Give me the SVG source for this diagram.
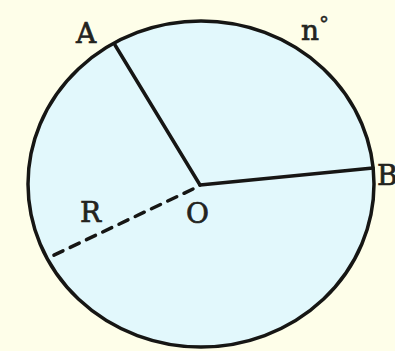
<svg xmlns="http://www.w3.org/2000/svg" width="395" height="351" viewBox="0 0 395 351">
<style>
.lbl{font-family:"DejaVu Serif","Liberation Serif",serif;font-size:28px;fill:#23231e;stroke:#23231e;stroke-width:0.7}
.ln{stroke:#161614;stroke-width:3.5;fill:none;stroke-linecap:round}
</style>
<rect width="395" height="351" fill="#fefee9"/>
<g id="circle">
<ellipse cx="201" cy="184" rx="173" ry="163" fill="#e2f8fc" stroke="#161614" stroke-width="3.5"/>
</g>
<g id="connectors">
<line class="ln" x1="115" y1="45" x2="200" y2="185"/>
<line class="ln" x1="200" y1="185" x2="373" y2="168"/>
<line class="ln" x1="193" y1="189" x2="48" y2="258" stroke-dasharray="10 8" stroke-width="4"/>
</g>
<g id="labels">
<text class="lbl" x="76" y="43">A</text>
<text class="lbl" x="301" y="40" font-size="33">n<tspan font-size="20" stroke-width="0.4" dy="-9">°</tspan></text>
<text class="lbl" x="377" y="185" font-size="20">B</text>
<text class="lbl" x="80" y="222">R</text>
<text class="lbl" x="186" y="223">O</text>
</g>
</svg>
